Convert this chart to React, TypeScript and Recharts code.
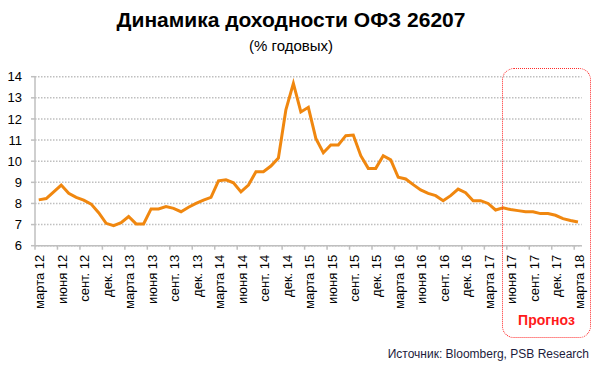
import React from "react";
import { LineChart, Line, XAxis, YAxis, CartesianGrid } from "recharts";

// Month names (genitive / abbreviated, as on the axis)
const monthNames = ["янв.", "февр.", "марта", "апр.", "мая", "июня", "июля", "авг.", "сент.", "окт.", "нояб.", "дек."];
const startYear = 12;
const startMonth = 2; // March
const monthCount = 73; // March 2012 .. March 2018

const categories: string[] = Array.from({ length: monthCount }, (_, i) => {
  const m = (startMonth + i) % 12;
  const y = startYear + Math.floor((startMonth + i) / 12);
  return `${monthNames[m]} ${y}`;
});

// OFZ 26207 yield, % p.a. (monthly)
const yields: number[] = [
  8.17, 8.23, 8.55, 8.87, 8.48, 8.29, 8.16, 7.97, 7.56, 7.06, 6.95, 7.09,
  7.38, 7.03, 7.03, 7.74, 7.74, 7.85, 7.77, 7.61, 7.82, 8.0, 8.16, 8.29,
  9.07, 9.12, 8.98, 8.55, 8.87, 9.5, 9.5, 9.77, 10.15, 12.43, 13.68, 12.33,
  12.55, 11.08, 10.4, 10.77, 10.77, 11.21, 11.24, 10.26, 9.66, 9.66, 10.26, 10.06,
  9.24, 9.16, 8.89, 8.64, 8.48, 8.37, 8.13, 8.37, 8.68, 8.51, 8.13, 8.13,
  8.0, 7.69, 7.79, 7.71, 7.66, 7.61, 7.61, 7.52, 7.52, 7.44, 7.28, 7.19, 7.12,
];

const yTicks = [6, 7, 8, 9, 10, 11, 12, 13, 14];

const data = categories.map((c, i) => ({ month: c, value: yields[i] }));

const AXIS_GRAY = "#bfbfbf";
const PLOT_LEFT = 35;
const PLOT_RIGHT = 581.7;
const BAND_HALF = (PLOT_RIGHT - PLOT_LEFT) / monthCount / 2;

const XTick = (props: any) => {
  const { x, y, payload } = props;
  const tx = x - BAND_HALF;
  return (
    <g>
      <line x1={tx} x2={tx} y1={y} y2={y + 4} stroke={AXIS_GRAY} strokeWidth={1.5} />
      <text
        transform={`translate(${x + 1},${y + 9}) rotate(-90)`}
        textAnchor="end"
        dy="0.36em"
        fontSize={13}
        fontFamily="'Liberation Sans', Arial, sans-serif"
        fill="#000"
      >
        {payload.value}
      </text>
    </g>
  );
};

export default function App() {
  return (
    <div style={{ position: "absolute", left: 0, top: 0, width: 600, height: 371, background: "#fff", overflow: "hidden" }}>
      <div
        style={{
          position: "absolute",
          left: 0,
          top: 7.5,
          width: 582,
          textAlign: "center",
          fontFamily: "'Liberation Sans', Arial, sans-serif",
          fontWeight: "bold",
          fontSize: 21,
          color: "#000",
          lineHeight: "24px",
        }}
      >
        Динамика доходности ОФЗ 26207
      </div>
      <div
        style={{
          position: "absolute",
          left: 0,
          top: 37,
          width: 582,
          textAlign: "center",
          fontFamily: "'Liberation Sans', Arial, sans-serif",
          fontSize: 15,
          color: "#000",
          lineHeight: "18px",
        }}
      >
        (% годовых)
      </div>
      <LineChart
        width={600}
        height={371}
        data={data}
        margin={{ top: 76.7, right: 600 - PLOT_RIGHT, bottom: 65.3, left: 0 }}
      >
        <CartesianGrid
          vertical={false}
          stroke={AXIS_GRAY}
          strokeDasharray="1.5 1.5"
          strokeWidth={1.5}
        />
        <XAxis
          dataKey="month"
          interval={2}
          height={60}
          tickSize={0}
          tickMargin={0}
          tickLine={false}
          axisLine={{ stroke: AXIS_GRAY, strokeWidth: 1.5 }}
          padding={{ left: BAND_HALF, right: BAND_HALF }}
          tick={<XTick />}
        />
        <YAxis
          width={PLOT_LEFT}
          domain={[6, 14]}
          ticks={yTicks}
          interval={0}
          tickSize={4}
          tickMargin={9}
          tickLine={{ stroke: AXIS_GRAY, strokeWidth: 1.5 }}
          axisLine={{ stroke: AXIS_GRAY, strokeWidth: 1.5 }}
          tick={{ fontSize: 13, fill: "#000", fontFamily: "'Liberation Sans', Arial, sans-serif" }}
        />
        <Line
          type="linear"
          dataKey="value"
          stroke="#f0870f"
          strokeWidth={3}
          dot={false}
          isAnimationActive={false}
        />
      </LineChart>
      <div
        style={{
          position: "absolute",
          left: 502,
          top: 68,
          width: 89,
          height: 270,
          boxSizing: "border-box",
          border: "1.5px dotted #ff2a2a",
          borderRadius: 12,
        }}
      />
      <div
        style={{
          position: "absolute",
          left: 502,
          top: 311,
          width: 89,
          textAlign: "center",
          fontFamily: "'Liberation Sans', Arial, sans-serif",
          fontWeight: "bold",
          fontSize: 14,
          color: "#ff1a1a",
          lineHeight: "18px",
        }}
      >
        Прогноз
      </div>
      <div
        style={{
          position: "absolute",
          right: 11,
          top: 347,
          fontFamily: "'Liberation Sans', Arial, sans-serif",
          fontSize: 12,
          color: "#1c1c3c",
          lineHeight: "15px",
          whiteSpace: "nowrap",
        }}
      >
        Источник: Bloomberg, PSB Research
      </div>
    </div>
  );
}
